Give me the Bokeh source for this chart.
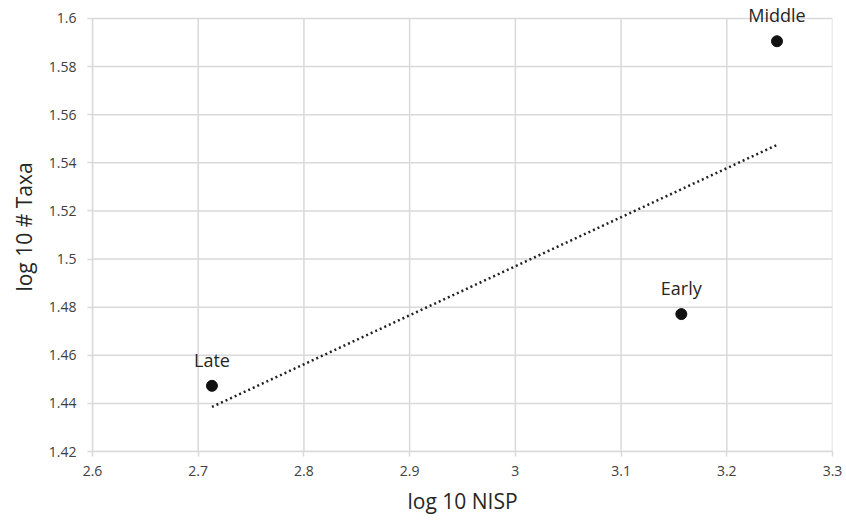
import numpy as np
from bokeh.plotting import figure
from bokeh.models import ColumnDataSource, FixedTicker, Range1d
from bokeh.core.properties import value
from bokeh.embed import file_html
from bokeh.resources import INLINE

periods = ["Late", "Early", "Middle"]
log_nisp = [2.713, 3.157, 3.2475]
log_taxa = [1.4473, 1.4771, 1.5905]
x_ticks = [2.6, 2.7, 2.8, 2.9, 3.0, 3.1, 3.2, 3.3]
y_ticks = [1.42, 1.44, 1.46, 1.48, 1.50, 1.52, 1.54, 1.56, 1.58, 1.60]
x_tick_labels = ["2.6", "2.7", "2.8", "2.9", "3", "3.1", "3.2", "3.3"]
y_tick_labels = ["1.42", "1.44", "1.46", "1.48", "1.5", "1.52", "1.54", "1.56", "1.58", "1.6"]

FONT = "Open Sans"
x_lo, x_hi = x_ticks[0], x_ticks[-1]
y_lo, y_hi = y_ticks[0], y_ticks[-1]
headroom = 0.0066  # room above the top gridline for the "Middle" label

p = figure(width=846, height=520, output_backend="svg", toolbar_location=None,
           x_range=Range1d(x_lo, x_hi), y_range=Range1d(y_lo, y_hi + headroom),
           min_border_left=92, min_border_right=14, min_border_top=2, min_border_bottom=69)
p.background_fill_color = "white"
p.border_fill_color = "white"
p.outline_line_color = None
p.grid.visible = False

grid_c = "#d9d9d9"
# gridlines limited to the data box
p.segment(x0=x_ticks, x1=x_ticks, y0=[y_lo] * len(x_ticks), y1=[y_hi] * len(x_ticks),
          line_color=grid_c, line_width=1.5)
p.segment(x0=[x_lo] * len(y_ticks), x1=[x_hi] * len(y_ticks), y0=y_ticks, y1=y_ticks,
          line_color=grid_c, line_width=1.5)

p.xaxis.ticker = FixedTicker(ticks=x_ticks)
p.yaxis.ticker = FixedTicker(ticks=y_ticks)
p.xaxis.major_label_overrides = {t: l for t, l in zip(x_ticks, x_tick_labels)}
p.yaxis.major_label_overrides = {t: l for t, l in zip(y_ticks, y_tick_labels)}
p.yaxis.bounds = (y_lo, y_hi)

for ax in (p.xaxis, p.yaxis):
    ax.axis_line_color = grid_c
    ax.axis_line_width = 1.5
    ax.major_tick_line_color = grid_c
    ax.major_tick_line_width = 1.5
    ax.major_tick_out = 5
    ax.major_tick_in = 0
    ax.minor_tick_line_color = None
    ax.major_label_text_font = FONT
    ax.major_label_text_font_size = "14px"
    ax.major_label_text_color = "#404040"
    ax.axis_label_text_font = FONT
    ax.axis_label_text_font_style = "normal"
    ax.axis_label_text_font_size = "21px"
    ax.axis_label_text_color = "#262626"

p.xaxis.major_label_standoff = 9
p.yaxis.major_label_standoff = 11
p.xaxis.axis_label = "log 10 NISP"
p.yaxis.axis_label = "log 10 # Taxa"
p.xaxis.axis_label_standoff = 8
p.yaxis.axis_label_standoff = 8

# Linear trendline fitted to the points
slope, intercept = np.polyfit(log_nisp, log_taxa, 1)
tx = [min(log_nisp), max(log_nisp)]
ty = [slope * v + intercept for v in tx]
p.line(tx, ty, line_color="#222222", line_width=2.5, line_dash="2 3")

src = ColumnDataSource(dict(x=log_nisp, y=log_taxa, label=periods))
p.scatter("x", "y", source=src, size=11, fill_color="#111111", line_color="#111111")
p.text("x", "y", text="label", source=src, text_align="center", text_baseline="middle",
       y_offset=-26, text_font=value(FONT), text_font_size="18px", text_color="#262626")

open("out.html", "w").write(file_html(p, INLINE))
